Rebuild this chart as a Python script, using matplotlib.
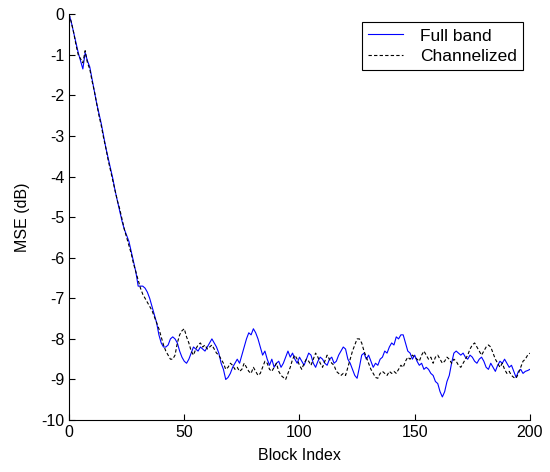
import matplotlib.pyplot as plt
import numpy as np

plt.rcParams['font.family'] = ['Liberation Sans', 'DejaVu Sans']
plt.rcParams['axes.unicode_minus'] = False

# MSE (dB) per block index 0..200
full_band = [
    0.0, -0.2, -0.45, -0.7, -0.95, -1.15, -1.35, -0.95, -1.15, -1.3,
    -1.6, -1.9, -2.2, -2.45, -2.7, -3.0, -3.3, -3.55, -3.8, -4.05,
    -4.35, -4.6, -4.85, -5.1, -5.3, -5.45, -5.6, -5.85, -6.1, -6.35,
    -6.7, -6.7, -6.7, -6.75, -6.85, -7.0, -7.2, -7.4, -7.6, -7.9,
    -8.1, -8.2, -8.2, -8.15, -8.0, -7.95, -8.0, -8.1, -8.3, -8.45,
    -8.55, -8.6, -8.5, -8.35, -8.2, -8.25, -8.3, -8.2, -8.25, -8.3,
    -8.2, -8.1, -8.0, -8.1, -8.2, -8.35, -8.6, -8.75, -9.0, -8.95,
    -8.85, -8.7, -8.6, -8.5, -8.6, -8.4, -8.2, -8.0, -7.85, -7.9,
    -7.75, -7.85, -8.0, -8.2, -8.4, -8.3, -8.5, -8.65, -8.5, -8.7,
    -8.6, -8.55, -8.7, -8.6, -8.45, -8.3, -8.45, -8.35, -8.5, -8.6,
    -8.45, -8.55, -8.65, -8.5, -8.35, -8.4, -8.6, -8.7, -8.55, -8.45,
    -8.5, -8.6, -8.65, -8.5, -8.45, -8.6, -8.55, -8.4, -8.3, -8.2,
    -8.25, -8.5, -8.6, -8.75, -8.9, -8.97, -8.7, -8.4, -8.35, -8.5,
    -8.4, -8.55, -8.7, -8.6, -8.65, -8.5, -8.45, -8.3, -8.35, -8.2,
    -8.1, -8.15, -7.95, -8.0, -7.9, -7.9, -8.1, -8.3, -8.35, -8.5,
    -8.4, -8.55, -8.65, -8.6, -8.75, -8.7, -8.75, -8.85, -8.9, -9.05,
    -9.1, -9.3, -9.43, -9.3, -9.05, -8.9, -8.6, -8.35, -8.3, -8.35,
    -8.4, -8.35, -8.45, -8.5, -8.4, -8.45, -8.55, -8.6, -8.5, -8.45,
    -8.55, -8.7, -8.75, -8.6, -8.7, -8.8, -8.65, -8.55, -8.6, -8.5,
    -8.6, -8.7, -8.65, -8.8, -8.95, -8.8, -8.75, -8.85, -8.8, -8.78,
    -8.75,
]

channelized = [
    0.0, -0.2, -0.45, -0.75, -1.0, -1.1, -1.2, -0.9, -1.2, -1.35,
    -1.65, -1.9, -2.2, -2.5, -2.75, -3.05, -3.3, -3.6, -3.85, -4.1,
    -4.35, -4.6, -4.8, -5.05, -5.3, -5.5, -5.7, -5.9, -6.15, -6.35,
    -6.55, -6.75, -6.9, -7.0, -7.1, -7.2, -7.3, -7.45, -7.6, -7.75,
    -7.95, -8.15, -8.3, -8.4, -8.5, -8.5, -8.4, -8.1, -7.9, -7.8,
    -7.75, -7.95, -8.1, -8.3, -8.4, -8.25, -8.15, -8.1, -8.2, -8.15,
    -8.25, -8.2, -8.15, -8.25, -8.35, -8.4, -8.5, -8.6, -8.75, -8.7,
    -8.6, -8.65, -8.75, -8.7, -8.8, -8.75, -8.6, -8.7, -8.8, -8.85,
    -8.7, -8.8, -8.9, -8.85, -8.7, -8.55, -8.6, -8.75, -8.8, -8.7,
    -8.6, -8.8, -8.9, -8.95, -9.0, -8.85, -8.7, -8.5, -8.4, -8.5,
    -8.65, -8.75, -8.6, -8.5, -8.55, -8.65, -8.5, -8.35, -8.45, -8.6,
    -8.7, -8.55, -8.4, -8.5, -8.6, -8.65, -8.8, -8.85, -8.9, -8.85,
    -8.9, -8.7, -8.5, -8.3, -8.15, -8.0, -8.0, -8.1, -8.3, -8.45,
    -8.6, -8.75, -8.85, -8.95, -8.97, -8.85, -8.8, -8.85, -8.9, -8.8,
    -8.85, -8.8, -8.85, -8.75, -8.65, -8.7, -8.55, -8.45, -8.5, -8.4,
    -8.45, -8.5, -8.55, -8.4, -8.3, -8.4, -8.5, -8.45, -8.6, -8.45,
    -8.4, -8.5, -8.6, -8.55, -8.45, -8.5, -8.6, -8.5, -8.55, -8.65,
    -8.7, -8.6, -8.5, -8.4, -8.25, -8.15, -8.1, -8.2, -8.3, -8.4,
    -8.3, -8.2, -8.15, -8.2, -8.35, -8.5, -8.6, -8.7, -8.6, -8.75,
    -8.85, -8.8, -8.9, -8.95, -8.97, -8.85, -8.7, -8.55, -8.5, -8.4,
    -8.35,
]

blocks = np.arange(len(full_band))

fig = plt.figure(figsize=(5.5, 4.72), dpi=100)
ax = fig.add_axes([0.1255, 0.110, 0.838, 0.860])

ax.plot(blocks, full_band, color='#0000ff', lw=0.8, label='Full band')
ax.plot(blocks, channelized, color='black', lw=0.8, ls=(0, (3, 2)), label='Channelized')

ax.set_xlim(0, 200)
ax.set_ylim(-10, 0)
ax.set_xticks([0, 50, 100, 150, 200])
ax.set_yticks(range(-10, 1))
ax.tick_params(direction='in', length=4, labelsize=11.5, top=False, right=False)
ax.spines['top'].set_visible(False)
ax.spines['right'].set_visible(False)

ax.set_xlabel('Block Index', fontsize=11.5, labelpad=6)
ax.set_ylabel('MSE (dB)', fontsize=11.5, labelpad=8)

leg = ax.legend(loc='upper right', bbox_to_anchor=(0.985, 0.98), borderaxespad=0,
                fontsize=12.5, fancybox=False, framealpha=1, edgecolor='black',
                handlelength=2.0, borderpad=0.35, labelspacing=0.3,
                handletextpad=1.0)
leg.get_frame().set_linewidth(0.8)

fig.savefig('out.png', dpi=100)
